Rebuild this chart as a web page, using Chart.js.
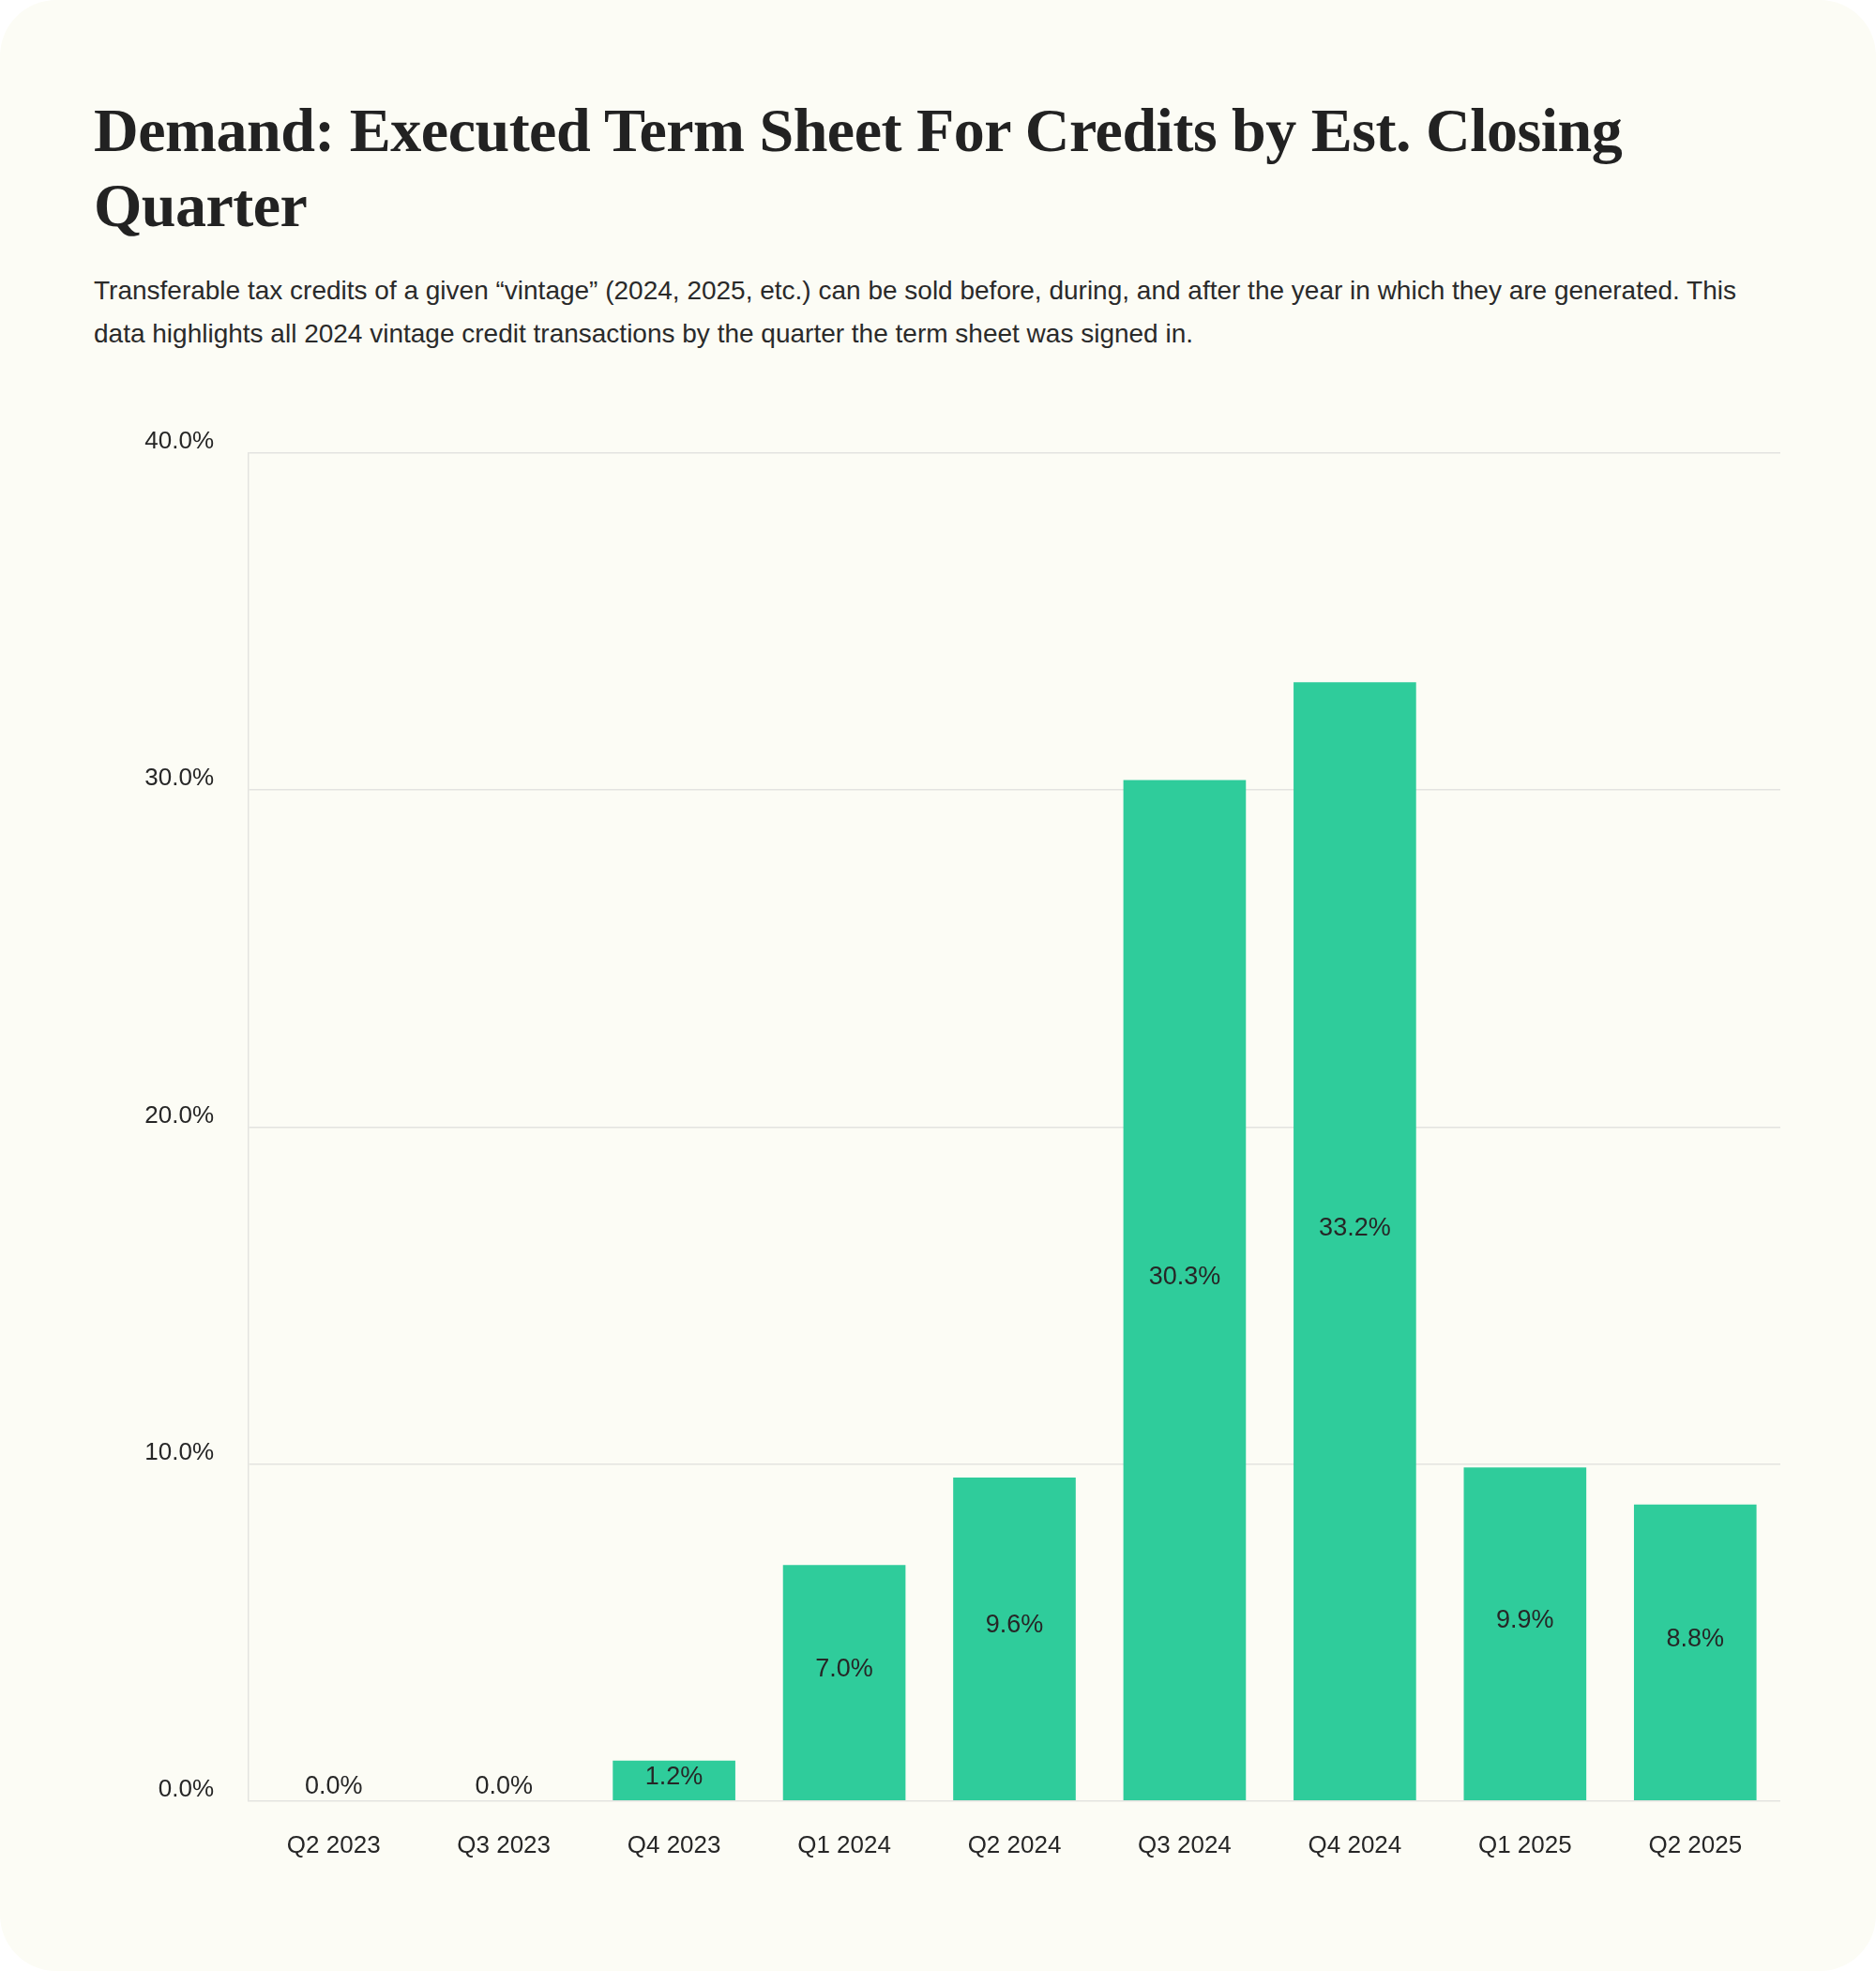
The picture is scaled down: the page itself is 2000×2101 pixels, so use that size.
<!DOCTYPE html>
<html>
<head>
<meta charset="utf-8">
<script src="https://cdn.jsdelivr.net/npm/chart.js@4"></script>
<style>
  html, body { margin: 0; padding: 0; background: #ffffff; }
  .card {
    position: relative;
    width: 2000px;
    height: 2101px;
    background: #fcfcf5;
    border-radius: 60px;
    overflow: hidden;
  }
  h1 {
    position: absolute;
    left: 100px;
    top: 99px;
    margin: 0;
    font-family: "Liberation Serif", serif;
    font-weight: 700;
    font-size: 66px;
    line-height: 80px;
    color: #222222;
    letter-spacing: -0.5px;
  }
  .sub {
    position: absolute;
    left: 100px;
    top: 287px;
    margin: 0;
    font-family: "Liberation Sans", sans-serif;
    font-size: 28px;
    line-height: 46px;
    color: #2a2a2a;
  }
  .chart-box {
    position: absolute;
    left: 0;
    top: 420px;
    width: 2000px;
    height: 1595px;
  }
</style>
</head>
<body>
<div class="card">
  <h1>Demand: Executed Term Sheet For Credits by Est. Closing<br>Quarter</h1>
  <p class="sub">Transferable tax credits of a given “vintage” (2024, 2025, etc.) can be sold before, during, and after the year in which they are generated. This<br>data highlights all 2024 vintage credit transactions by the quarter the term sheet was signed in.</p>
  <div class="chart-box"><canvas id="barChart"></canvas></div>
</div>
<script>
// Données
const quarters = ['Q2 2023', 'Q3 2023', 'Q4 2023', 'Q1 2024', 'Q2 2024', 'Q3 2024', 'Q4 2024', 'Q1 2025', 'Q2 2025'];
const shares = [0.0, 0.0, 1.2, 7.0, 9.6, 30.3, 33.2, 9.9, 8.8];
const yTicks = [0, 10, 20, 30, 40];

const barColor = '#2fcc9b';
const textColor = '#262626';
const gridColor = '#e3e3e0';

// Étiquettes de valeur au centre des barres (légèrement remontées, gardées dans la barre)
const valueLabels = {
    id: 'valueLabels',
    afterDatasetsDraw(chart) {
        const ctx = chart.ctx;
        const meta = chart.getDatasetMeta(0);
        ctx.save();
        ctx.font = '27px "Liberation Sans", sans-serif';
        ctx.fillStyle = textColor;
        ctx.textAlign = 'center';
        ctx.textBaseline = 'middle';
        meta.data.forEach((bar, i) => {
            const props = bar.getProps(['x', 'y', 'base'], true);
            let y = (props.y + props.base) / 2 - 14;
            y = Math.max(y, props.y + 18);
            y = Math.min(y, props.base - 15);
            ctx.fillText(shares[i].toFixed(1) + '%', props.x, y);
        });
        ctx.restore();
    }
};

const barCtx = document.getElementById('barChart').getContext('2d');
const barChart = new Chart(barCtx, {
    type: 'bar',
    data: {
        labels: quarters,
        datasets: [{
            label: 'Share of 2024 vintage transactions',
            data: shares,
            backgroundColor: barColor,
            borderWidth: 0,
            categoryPercentage: 0.8,
            barPercentage: 0.9
        }]
    },
    options: {
        responsive: true,
        maintainAspectRatio: false,
        animation: false,
        devicePixelRatio: 1,
        layout: {
            padding: { top: 63, right: 102, bottom: 0, left: 0 }
        },
        plugins: {
            legend: { display: false },
            tooltip: { enabled: false }
        },
        scales: {
            x: {
                grid: { display: false, drawTicks: false },
                border: { display: false },
                ticks: {
                    color: textColor,
                    padding: 32,
                    maxRotation: 0,
                    font: { family: '"Liberation Sans", sans-serif', size: 26 }
                }
            },
            y: {
                min: 0,
                max: 40,
                afterBuildTicks(scale) {
                    scale.ticks = yTicks.map(v => ({ value: v }));
                },
                afterFit(scale) {
                    scale.width = 265;
                },
                grid: {
                    color: gridColor,
                    lineWidth: 1.5,
                    drawTicks: false
                },
                border: { display: true, color: gridColor, width: 1.5 },
                ticks: {
                    color: textColor,
                    padding: 37,
                    labelOffset: -12,
                    font: { family: '"Liberation Sans", sans-serif', size: 26 },
                    callback: v => v.toFixed(1) + '%'
                }
            }
        }
    },
    plugins: [valueLabels]
});
</script>
</body>
</html>
